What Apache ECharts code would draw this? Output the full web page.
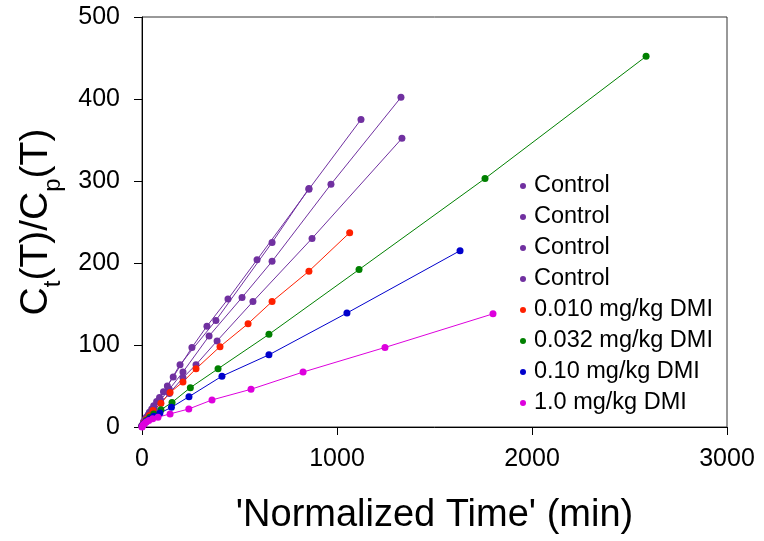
<!DOCTYPE html>
<html><head><meta charset="utf-8">
<script src="https://cdn.jsdelivr.net/npm/echarts@6/dist/echarts.min.js"></script>
<style>html,body{margin:0;padding:0;background:#fff}#c{width:764px;height:541px}</style>
</head><body><div id="c"></div>
<script>
var seriesNames = ['Control','Control','Control','Control','0.010 mg/kg DMI','0.032 mg/kg DMI','0.10 mg/kg DMI','1.0 mg/kg DMI'];
var seriesColors = ['#7030A0','#7030A0','#7030A0','#7030A0','#FF2000','#008000','#0000CC','#DD00DD'];
var control1 = [[0,2],[8,6],[18,10],[32,15],[50,22],[75,31],[110,43],[160,61],[256,97],[333,123],[441,156],[590,204],[856,290],[1123,375]];
var control2 = [[0,1],[10,6],[22,10],[40,16],[62,23],[95,33],[140,46],[210,67],[344,111],[513,158],[667,202],[969,296],[1328,402]];
var control3 = [[0,1],[10,5],[22,9],[40,14],[62,20],[95,29],[140,41],[210,60],[277,76],[385,105],[569,153],[872,230],[1333,352]];
var control4 = [[0,1],[10,7],[22,12],[38,18],[60,26],[90,36],[130,50],[195,76],[379,130],[667,225],[856,291]];
var dmi0010 = [[0,1],[10,5],[22,9],[38,14],[56,20],[97,29],[144,42],[210,55],[277,71],[400,98],[544,126],[667,153],[856,190],[1065,237]];
var dmi0032 = [[0,1],[10,4],[22,8],[40,12],[60,16],[97,21],[154,30],[248,48],[390,71],[651,113],[1113,192],[1759,303],[2585,452]];
var dmi010 = [[0,1],[10,4],[22,7],[40,10],[60,13],[92,17],[151,24],[241,37],[410,62],[651,88],[1051,139],[1631,215]];
var dmi10 = [[0,0],[5,2],[12,4],[22,6],[35,8],[55,10],[82,12],[144,16],[240,22],[359,33],[559,46],[826,67],[1246,97],[1800,138]];
var xTicks = [0,1000,2000,3000];
var yTicks = [0,100,200,300,400,500];
var allData = [control1,control2,control3,control4,dmi0010,dmi0032,dmi010,dmi10];

var font = 'Liberation Sans, Arial, sans-serif';
var chart = echarts.init(document.getElementById('c'), null, {renderer:'canvas'});
var series = allData.map(function(d,i){
  return {
    name: seriesNames[i] + (i<4 ? '\u200b'.repeat(i) : ''),
    type: 'line', data: d, symbol: 'circle', symbolSize: 7,
    lineStyle: {color: seriesColors[i], width: 1},
    itemStyle: {color: seriesColors[i]},
    animation: false
  };
});
chart.setOption({
  backgroundColor: '#fff',
  grid: {left: 142, right: 37, top: 17, bottom: 114, show: true, borderColor: '#333', borderWidth: 1},
  legend: {
    orient: 'vertical', left: 515, top: 169, icon: 'circle', itemWidth: 6, itemHeight: 6, itemGap: 7,
    data: series.map(function(s){return s.name;}),
    formatter: function(n){ return n.replace(/\u200b/g,''); },
    textStyle: {fontFamily: font, fontSize: 23.5, color: '#000', padding: [0,0,0,3]}
  },
  xAxis: {
    type: 'value', min: xTicks[0], max: xTicks[xTicks.length-1], interval: 1000,
    name: "'Normalized Time' (min)", nameLocation: 'middle', nameGap: 70,
    nameTextStyle: {fontFamily: font, fontSize: 38, color: '#000'},
    axisLine: {lineStyle: {color: '#000', width: 1}},
    axisTick: {show: true, inside: false, length: 8, lineStyle: {color: '#000'}},
    axisLabel: {fontFamily: font, fontSize: 25, color: '#000', margin: 20, formatter: function(v){return String(v);}},
    splitLine: {show: false}
  },
  yAxis: {
    type: 'value', min: yTicks[0], max: yTicks[yTicks.length-1], interval: 100,
    name: '{a|C}{s|t}{a|(T)/C}{s|p}{a|(T)}', nameLocation: 'middle', nameGap: 86, nameRotate: 90,
    nameTextStyle: {fontFamily: font, fontSize: 36, color: '#000',
      rich: {a: {fontFamily: font, fontSize: 39, color: '#000', lineHeight: 44, verticalAlign: 'bottom'},
             s: {fontFamily: font, fontSize: 24, color: '#000', lineHeight: 44, verticalAlign: 'bottom', padding: [0,0,-9,0]}}},
    axisLine: {show: true, lineStyle: {color: '#000', width: 1}},
    axisTick: {show: true, inside: false, length: 8, lineStyle: {color: '#000'}},
    axisLabel: {fontFamily: font, fontSize: 25, color: '#000', margin: 22, formatter: function(v){return String(v);}},
    splitLine: {show: false}
  },
  series: series
});
</script></body></html>
